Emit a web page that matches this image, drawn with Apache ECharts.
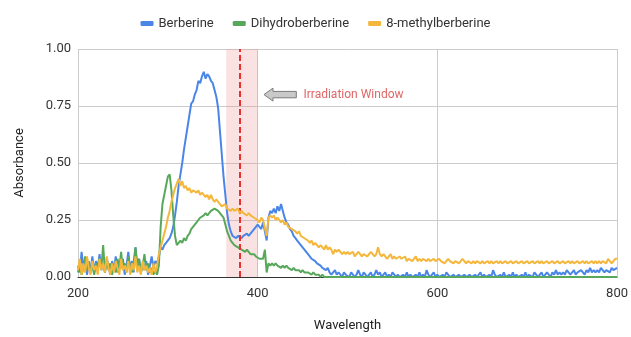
<!DOCTYPE html>
<html>
<head>
<meta charset="utf-8">
<script src="https://cdn.jsdelivr.net/npm/echarts@6/dist/echarts.min.js"></script>
<style>
  html, body { margin: 0; padding: 0; background: #fff; }
  #chart { width: 631px; height: 337px; }
</style>
</head>
<body>
<div id="chart"></div>
<script>
// Sampling grid (nm), 2 nm steps
const wavelength = [
  200,202,204,206,208,210,212,214,216,218, 220,222,224,226,228,230,232,234,236,238,
  240,242,244,246,248,250,252,254,256,258, 260,262,264,266,268,270,272,274,276,278,
  280,282,284,286,288,290,292,294,296,298, 300,302,304,306,308,310,312,314,316,318,
  320,322,324,326,328,330,332,334,336,338, 340,342,344,346,348,350,352,354,356,358,
  360,362,364,366,368,370,372,374,376,378, 380,382,384,386,388,390,392,394,396,398,
  400,402,404,406,408,410,412,414,416,418, 420,422,424,426,428,430,432,434,436,438,
  440,442,444,446,448,450,452,454,456,458, 460,462,464,466,468,470,472,474,476,478,
  480,482,484,486,488,490,492,494,496,498, 500,502,504,506,508,510,512,514,516,518,
  520,522,524,526,528,530,532,534,536,538, 540,542,544,546,548,550,552,554,556,558,
  560,562,564,566,568,570,572,574,576,578, 580,582,584,586,588,590,592,594,596,598,
  600,602,604,606,608,610,612,614,616,618, 620,622,624,626,628,630,632,634,636,638,
  640,642,644,646,648,650,652,654,656,658, 660,662,664,666,668,670,672,674,676,678,
  680,682,684,686,688,690,692,694,696,698, 700,702,704,706,708,710,712,714,716,718,
  720,722,724,726,728,730,732,734,736,738, 740,742,744,746,748,750,752,754,756,758,
  760,762,764,766,768,770,772,774,776,778, 780,782,784,786,788,790,792,794,796,798,
  800
];

const berberine = [
  0.05,0.02,0.11,0.04,0.08,0.01,0.06,0.03,0.09,0.02, 0.07,0.04,0.10,0.03,0.06,0.02,0.08,0.05,0.01,0.07,
  0.03,0.09,0.02,0.06,0.04,0.08,0.01,0.05,0.11,0.03, 0.07,0.02,0.13,0.05,0.08,0.02,0.06,0.03,0.07,0.01,
  0.05,0.09,0.04,0.07,0.06,0.09,0.13,0.12,0.14,0.15, 0.15,0.17,0.19,0.22,0.27,0.33,0.40,0.45,0.50,0.56,
  0.61,0.66,0.71,0.76,0.77,0.80,0.82,0.86,0.85,0.88, 0.90,0.87,0.89,0.88,0.86,0.85,0.82,0.79,0.74,0.64,
  0.54,0.44,0.36,0.28,0.23,0.20,0.18,0.18,0.17,0.18, 0.18,0.17,0.18,0.18,0.19,0.18,0.19,0.20,0.21,0.22,
  0.23,0.22,0.21,0.24,0.24,0.16,0.26,0.29,0.28,0.30, 0.28,0.31,0.29,0.32,0.29,0.26,0.24,0.23,0.21,0.20,
  0.18,0.17,0.16,0.15,0.14,0.13,0.12,0.11,0.10,0.09, 0.08,0.08,0.07,0.06,0.06,0.05,0.04,0.04,0.03,0.04,
  0.02,0.01,0.02,0.03,0.01,0.02,0.01,0.00,0.02,0.01, 0.01,0.00,0.02,0.01,0.00,0.01,0.03,0.01,0.00,0.02,
  0.01,0.00,0.01,0.02,0.00,0.01,0.03,0.01,0.02,0.00, 0.01,0.02,0.00,0.01,0.00,0.02,0.01,0.00,0.01,0.00,
  0.00,0.01,0.00,0.02,0.00,0.01,0.00,0.00,0.01,0.00, 0.02,0.00,0.01,0.00,0.03,0.01,0.00,0.01,0.02,0.00,
  0.01,0.00,0.00,0.01,0.00,0.02,0.01,0.00,0.00,0.01, 0.00,0.00,0.01,0.00,0.00,0.01,0.00,0.00,0.01,0.00,
  0.00,0.01,0.00,0.00,0.02,0.00,0.01,0.00,0.00,0.01, 0.00,0.03,0.01,0.00,0.00,0.01,0.00,0.02,0.00,0.00,
  0.01,0.00,0.02,0.00,0.01,0.00,0.00,0.01,0.00,0.02, 0.00,0.01,0.01,0.00,0.02,0.01,0.00,0.01,0.02,0.00,
  0.01,0.02,0.01,0.00,0.02,0.01,0.03,0.01,0.02,0.01, 0.02,0.01,0.03,0.02,0.01,0.02,0.03,0.01,0.02,0.02,
  0.03,0.02,0.01,0.03,0.02,0.04,0.02,0.03,0.02,0.03, 0.02,0.04,0.03,0.02,0.03,0.03,0.02,0.04,0.03,0.03,
  0.04
];

const dihydroberberine = [
  0.02,0.06,0.01,0.04,0.09,0.03,0.07,0.02,0.05,0.01, 0.06,0.03,0.08,0.04,0.14,0.02,0.07,0.03,0.06,0.01,
  0.05,0.02,0.08,0.04,0.11,0.03,0.06,0.02,0.09,0.04, 0.02,0.07,0.13,0.03,0.08,0.02,0.05,0.10,0.03,0.06,
  0.02,0.04,0.01,0.03,0.01,0.05,0.22,0.32,0.36,0.40, 0.44,0.45,0.38,0.27,0.18,0.14,0.15,0.16,0.15,0.17,
  0.16,0.18,0.19,0.21,0.22,0.23,0.24,0.25,0.26,0.26, 0.27,0.28,0.27,0.28,0.29,0.29,0.30,0.30,0.29,0.28,
  0.27,0.26,0.23,0.20,0.18,0.16,0.15,0.14,0.14,0.13, 0.13,0.12,0.12,0.11,0.12,0.11,0.10,0.10,0.10,0.09,
  0.09,0.08,0.08,0.08,0.12,0.02,0.06,0.05,0.06,0.05, 0.06,0.05,0.05,0.04,0.05,0.04,0.05,0.04,0.04,0.03,
  0.04,0.03,0.03,0.03,0.02,0.03,0.02,0.02,0.02,0.02, 0.01,0.02,0.01,0.01,0.01,0.00,0.01,0.00,0.00,0.00,
  0,0,0,0,0,0,0,0,0,0, 0,0,0,0,0,0,0,0,0,0,
  0,0,0,0,0,0,0,0,0,0, 0,0,0,0,0,0,0,0,0,0,
  0,0,0,0,0,0,0,0,0,0, 0,0,0,0,0,0,0,0,0,0,
  0,0,0,0,0,0,0,0,0,0, 0,0,0,0,0,0,0,0,0,0,
  0,0,0,0,0,0,0,0,0,0, 0,0,0,0,0,0,0,0,0,0,
  0,0,0,0,0,0,0,0,0,0, 0,0,0,0,0,0,0,0,0,0,
  0,0,0,0,0,0,0,0,0,0, 0,0,0,0,0,0,0,0,0,0,
  0,0,0,0,0,0,0,0,0,0, 0,0,0,0,0,0,0,0,0,0,
  0
];

const methylberberine = [
  0.03,0.08,0.01,0.06,0.02,0.09,0.04,0.01,0.07,0.03, 0.05,0.01,0.08,0.03,0.06,0.02,0.09,0.04,0.01,0.06,
  0.02,0.07,0.04,0.01,0.08,0.03,0.05,0.02,0.07,0.01, 0.06,0.03,0.09,0.02,0.05,0.01,0.07,0.03,0.05,0.02,
  0.04,0.01,0.06,0.02,0.05,0.10,0.13,0.16,0.19,0.22, 0.26,0.29,0.33,0.36,0.39,0.41,0.43,0.40,0.42,0.39,
  0.40,0.38,0.39,0.37,0.38,0.38,0.37,0.38,0.36,0.37, 0.36,0.35,0.36,0.34,0.36,0.34,0.33,0.34,0.33,0.32,
  0.31,0.31,0.32,0.30,0.30,0.29,0.30,0.29,0.29,0.30, 0.28,0.29,0.28,0.28,0.27,0.28,0.27,0.27,0.26,0.26,
  0.25,0.24,0.26,0.25,0.25,0.18,0.26,0.27,0.26,0.27, 0.25,0.26,0.25,0.24,0.25,0.23,0.24,0.22,0.22,0.21,
  0.21,0.20,0.19,0.20,0.18,0.18,0.17,0.17,0.16,0.15, 0.16,0.14,0.15,0.14,0.13,0.14,0.13,0.12,0.14,0.12,
  0.13,0.12,0.10,0.12,0.11,0.12,0.11,0.10,0.11,0.10, 0.11,0.10,0.10,0.11,0.09,0.10,0.11,0.10,0.09,0.10,
  0.10,0.09,0.10,0.11,0.10,0.09,0.10,0.13,0.10,0.09, 0.10,0.09,0.08,0.09,0.10,0.08,0.09,0.08,0.08,0.09,
  0.08,0.08,0.09,0.07,0.08,0.08,0.07,0.08,0.09,0.07, 0.08,0.07,0.08,0.08,0.07,0.08,0.07,0.07,0.08,0.07,
  0.07,0.08,0.07,0.07,0.06,0.07,0.08,0.07,0.07,0.06, 0.07,0.07,0.06,0.07,0.08,0.07,0.06,0.07,0.07,0.06,
  0.07,0.06,0.07,0.07,0.06,0.07,0.06,0.06,0.07,0.06, 0.07,0.06,0.06,0.07,0.06,0.07,0.06,0.06,0.07,0.06,
  0.06,0.07,0.06,0.06,0.07,0.06,0.06,0.07,0.06,0.06, 0.07,0.06,0.06,0.07,0.06,0.06,0.07,0.06,0.07,0.06,
  0.06,0.07,0.06,0.06,0.07,0.06,0.06,0.07,0.06,0.06, 0.07,0.06,0.06,0.07,0.06,0.07,0.06,0.06,0.07,0.06,
  0.06,0.07,0.06,0.07,0.06,0.06,0.07,0.06,0.07,0.06, 0.07,0.06,0.07,0.07,0.06,0.08,0.07,0.06,0.07,0.08,
  0.08
];

const seriesNames = ['Berberine', 'Dihydroberberine', '8-methylberberine'];
const seriesColors = ['#4a86e8', '#57a85a', '#f4b73c'];

// Irradiation window (nm) and its centre line
const windowRange = [365, 400];
const windowCentre = 380;
const noteText = 'Irradiation Window';

const FONT = 'Roboto, Arial, sans-serif';

const pairs = vals => wavelength.map((w, i) => [w, vals[i]]);
const allValues = [berberine, dihydroberberine, methylberberine];

const chart = echarts.init(document.getElementById('chart'), null, { renderer: 'canvas' });

const series = seriesNames.map((name, k) => ({
  name,
  type: 'line',
  data: pairs(allValues[k]),
  showSymbol: false,
  symbol: 'none',
  sampling: null,
  lineStyle: { width: 2, color: seriesColors[k] },
  itemStyle: { color: seriesColors[k] },
  emphasis: { disabled: true },
  animation: false,
  z: 3 + k
}));

// band + dashed marker carried by the first series
series[0].markArea = {
  silent: true,
  itemStyle: { color: 'rgba(240,140,140,0.25)' },
  data: [[{ xAxis: windowRange[0] }, { xAxis: windowRange[1] }]]
};
series[0].markLine = {
  silent: true,
  symbol: 'none',
  label: { show: false },
  lineStyle: { color: '#e8302c', width: 2, type: [6, 3] },
  data: [{ xAxis: windowCentre }]
};

chart.setOption({
  animation: false,
  textStyle: { fontFamily: FONT },
  legend: {
    top: 12,
    left: 'center',
    icon: 'roundRect',
    itemWidth: 13,
    itemHeight: 5,
    itemGap: 19,
    textStyle: { fontSize: 13, color: '#333', fontFamily: FONT },
    data: seriesNames
  },
  grid: { left: 78, right: 10, top: 49, bottom: 56, containLabel: false },
  xAxis: {
    type: 'value',
    min: 200,
    max: 800,
    interval: 200,
    name: 'Wavelength',
    nameLocation: 'middle',
    nameGap: 42,
    nameTextStyle: { fontSize: 13, color: '#222', fontFamily: FONT },
    axisLine: { show: true, lineStyle: { color: '#333', width: 1 } },
    axisTick: { show: false },
    axisLabel: { fontSize: 13, color: '#333', margin: 10, fontFamily: FONT },
    splitLine: { show: true, lineStyle: { color: '#cccccc', width: 1 } }
  },
  yAxis: {
    type: 'value',
    min: 0,
    max: 1,
    interval: 0.25,
    name: 'Absorbance',
    nameLocation: 'middle',
    nameGap: 52,
    nameTextStyle: { fontSize: 13, color: '#222', fontFamily: FONT },
    axisLine: { show: false },
    axisTick: { show: false },
    axisLabel: {
      fontSize: 13, color: '#333', margin: 7, fontFamily: FONT,
      formatter: v => v.toFixed(2)
    },
    splitLine: { show: true, lineStyle: { color: '#cccccc', width: 1 } }
  },
  series
});

// Arrow + note placed in data coordinates
const tip = chart.convertToPixel({ gridIndex: 0 }, [407, 0.8]);
const tail = chart.convertToPixel({ gridIndex: 0 }, [443, 0.8]);
const textPos = chart.convertToPixel({ gridIndex: 0 }, [451, 0.8]);
const x0 = tip[0], x1 = tail[0], yc = tip[1];
const head = 9, halfHead = 6.5, halfShaft = 3.2;

chart.setOption({
  graphic: [
    {
      type: 'polygon',
      silent: true,
      z: 20,
      shape: {
        points: [
          [x0, yc],
          [x0 + head, yc - halfHead],
          [x0 + head, yc - halfShaft],
          [x1, yc - halfShaft],
          [x1, yc + halfShaft],
          [x0 + head, yc + halfShaft],
          [x0 + head, yc + halfHead]
        ]
      },
      style: { fill: '#c9c9c9', stroke: '#7a7a7a', lineWidth: 1 }
    },
    {
      type: 'text',
      silent: true,
      z: 20,
      x: textPos[0],
      y: yc,
      style: {
        text: noteText,
        fill: '#e06666',
        font: '12px ' + FONT,
        verticalAlign: 'middle',
        align: 'left'
      }
    }
  ]
});
</script>
</body>
</html>
